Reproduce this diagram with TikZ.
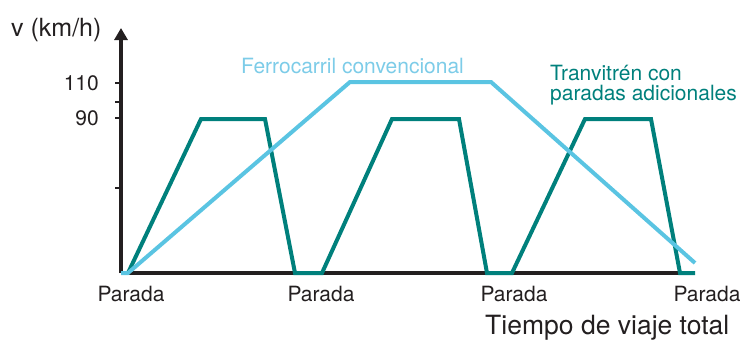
\documentclass[tikz,border=0pt]{standalone}
\usepackage{fontspec}
\setmainfont{TeX Gyre Heros}
\usetikzlibrary{arrows.meta}
\definecolor{tranvia}{RGB}{0,128,124}
\definecolor{ferro}{RGB}{90,196,226}
\definecolor{ferrotexto}{RGB}{125,204,232}
\definecolor{eje}{RGB}{35,31,32}
\tikzset{
  curva/.style={line width=4pt,line join=miter},
  rotulo/.style={inner sep=0pt,text=eje,font=\fontsize{21}{24}\selectfont},
}
\begin{document}
\begin{tikzpicture}[x=1pt,y=-1pt]
\useasboundingbox (0,0) rectangle (742,340);
% ==========================================
% ejes
\coordinate (origen) at (121,273);
\coordinate (ytop) at (121,28);
\coordinate (xfin) at (695,273);
\draw[eje,line width=3.5pt,-{Triangle[width=13pt,length=12pt]}] (origen) -- (ytop);
\draw[eje,line width=3.5pt] (origen) -- (xfin);
%
\foreach \y in {83,102,118,188}
  \draw[eje,line width=1.2pt] (115,\y) -- (121,\y);
%
\node (vkmh) at (11,36) [rotulo,anchor=base west,font=\fontsize{25}{28}\selectfont] {v (km/h)};
\node (v110) at (99,90.5) [rotulo,anchor=base east] {110};
\node (v90) at (99,125.5) [rotulo,anchor=base east] {90};
%
% paradas
\node (p1) at (131,301.5) [rotulo,anchor=base] {Parada};
\node (p2) at (321,301.5) [rotulo,anchor=base] {Parada};
\node (p3) at (514,301.5) [rotulo,anchor=base] {Parada};
\node (p4) at (707,301.5) [rotulo,anchor=base] {Parada};
\node (tiempo) at (485,334.5) [rotulo,anchor=base west,font=\fontsize{26.5}{30}\selectfont] {Tiempo de viaje total};
%
% tranvitren
\draw[curva,tranvia] (128,273) -- (201,119) -- (265,119) -- (295,273) -- (322,273)
  -- (392,119) -- (459,119) -- (487,273) -- (512,273)
  -- (585,119) -- (651,119) -- (680,273) -- (xfin);
%
% ferrocarril
\draw[curva,ferro] (origen) -- (128,273) -- (350,82) -- (491,82) -- (695,263);
%
\node (ferrolab) at (241,73) [rotulo,anchor=base west,text=ferrotexto] {Ferrocarril convencional};
\node (tranlab1) at (550,80) [rotulo,anchor=base west,text=tranvia] {Tranvitrén con};
\node (tranlab2) at (550,100) [rotulo,anchor=base west,text=tranvia] {paradas adicionales};
% =============================================
\end{tikzpicture}
\end{document}
